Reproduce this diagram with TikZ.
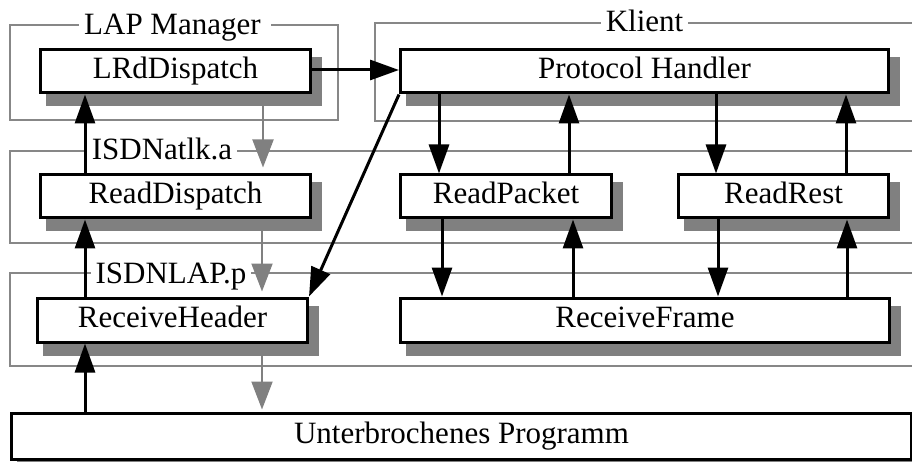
\documentclass[tikz,border=0pt]{standalone}
\usepackage{fontspec}
\setmainfont{Liberation Serif}
\usetikzlibrary{arrows.meta,calc}

\definecolor{shadowgray}{gray}{0.5}
\definecolor{framegray}{gray}{0.53}

\pgfdeclarelayer{shadowlayer}
\pgfsetlayers{shadowlayer,main}

\tikzset{
  procbox/.style={draw=black, line width=3pt, fill=white, rectangle,
    inner sep=0pt, minimum height=43pt,
    text height=21pt, text depth=6.5pt},
  grp/.style={draw=framegray, line width=2pt},
  grplabel/.style={fill=white, inner xsep=5pt, inner ysep=1pt, anchor=base},
  arr/.style={line width=3pt, -{Triangle[length=29pt,width=20pt]}},
  garr/.style={draw=shadowgray, line width=2pt,
    -{Triangle[length=28pt,width=21pt,fill=shadowgray]}},
}

% drop shadow behind a process box
\newcommand{\boxshadow}[1]{%
  \fill[shadowgray] ($(#1.north west)+(7,9)$) rectangle ($(#1.south east)+(10,12)$);}

\begin{document}
\begin{tikzpicture}[x=1pt, y=-1pt, font=\fontsize{31}{37}\selectfont]
\useasboundingbox (0,0) rectangle (912,462);
\clip (0,0) rectangle (912,462);

% module frames
\draw[grp] (9.5,25) rectangle (338,120);
\draw[grp] (375,23) rectangle (930,121);
\draw[grp] (9.5,151) rectangle (930,243);
\draw[grp] (9.5,273) rectangle (930,366);

\node[grplabel] (lapm) at (175,35) {LAP Manager\,};
\node[grplabel] (klient) at (644.5,32) {Klient};
\node[grplabel] (atlk) at (162,160) {ISDNatlk.a};
\node[grplabel] (nlap) at (171,283) {ISDNLAP.p};

% process boxes
\node[procbox, minimum width=270pt] (lrd) at (175.5,71.5) {LRdDispatch};
\node[procbox, minimum width=488pt] (ph)  at (644.5,71.5) {Protocol Handler};
\node[procbox, minimum width=270pt] (rd)  at (175.5,196.5) {ReadDispatch};
\node[procbox, minimum width=211pt] (rp)  at (506,196.5) {ReadPacket};
\node[procbox, minimum width=210pt] (rr)  at (783.5,196.5) {ReadRest};
\node[procbox, minimum width=270pt, minimum height=44pt] (rh) at (172.5,320) {ReceiveHeader};
\node[procbox, minimum width=489pt, minimum height=44pt] (rf) at (645,320) {ReceiveFrame};
\node[procbox, minimum width=900pt, minimum height=46pt] (up) at (461.5,436) {Unterbrochenes Programm};

% shadows, underneath everything
\begin{pgfonlayer}{shadowlayer}
  \foreach \n in {lrd,ph,rd,rp,rr,rh,rf,up} {\boxshadow{\n}}
\end{pgfonlayer}

% calls (black)
\draw[arr] ([yshift=1.5pt]lrd.east) -- ([yshift=1.5pt]lrd.east -| ph.west);
\draw[arr] ([xshift=-90.5pt]rd.north) -- ([xshift=-90.5pt]rd.north |- lrd.south);
\draw[arr] ([xshift=-87.5pt]rh.north) -- ([xshift=-87.5pt]rh.north |- rd.south);
\draw[arr] ([xshift=-87.5pt]rh.south |- up.north) -- ([xshift=-87.5pt]rh.south);
\draw[arr] (ph.south west) -- (rh.north east);

\draw[arr] ([xshift=-67pt]rp.north |- ph.south) -- ([xshift=-67pt]rp.north);
\draw[arr] ([xshift=63pt]rp.north) -- ([xshift=63pt]rp.north |- ph.south);
\draw[arr] ([xshift=-67.5pt]rr.north |- ph.south) -- ([xshift=-67.5pt]rr.north);
\draw[arr] ([xshift=62.5pt]rr.north) -- ([xshift=62.5pt]rr.north |- ph.south);

\draw[arr] ([xshift=-64pt]rp.south) -- ([xshift=-64pt]rp.south |- rf.north);
\draw[arr] ([xshift=67pt]rp.south |- rf.north) -- ([xshift=67pt]rp.south);
\draw[arr] ([xshift=-65.5pt]rr.south) -- ([xshift=-65.5pt]rr.south |- rf.north);
\draw[arr] ([xshift=63.5pt]rr.south |- rf.north) -- ([xshift=63.5pt]rr.south);

% returns (grey)
\draw[garr] ([shift={(224,12)}]lrd.south west) -- ([shift={(224,-6)}]rd.north west);
\draw[garr] ([shift={(223,9)}]rd.south west) -- ([shift={(226,-5)}]rh.north west);
\draw[garr] ([shift={(226,9)}]rh.south west) -- ([shift={(226,-2)}]rh.south west |- up.north);
\end{tikzpicture}
\end{document}
